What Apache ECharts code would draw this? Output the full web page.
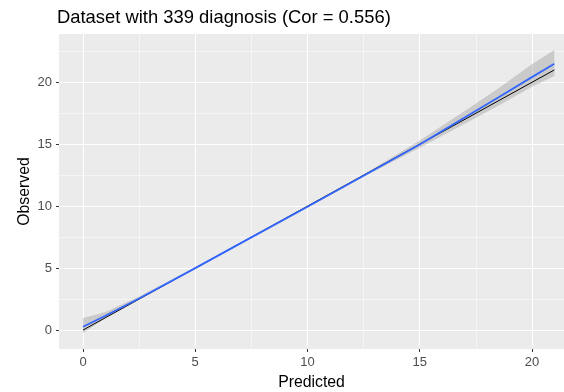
<!DOCTYPE html>
<html><head><meta charset="utf-8">
<script src="https://cdn.jsdelivr.net/npm/echarts@6/dist/echarts.min.js"></script>
<style>html,body{margin:0;padding:0;background:#fff}#c{width:564px;height:392px}</style>
</head><body><div id="c"></div>
<script>
// Data
const titleText = 'Dataset with 339 diagnosis (Cor = 0.556)';
const xName = 'Predicted';
const yName = 'Observed';
const tickValues = [0, 5, 10, 15, 20];
const minorValues = [2.5, 7.5, 12.5, 17.5];
const yMinorValues = [2.5, 7.5, 12.5, 17.5, 22.5];
const identityX = [0, 21];
const identityY = [0, 21];
const fitX = [0, 1, 2.5, 5, 7.5, 10, 12.5, 15, 16.8, 18.5, 20, 21];
const fitY = [0.27, 1.15, 2.55, 5.0, 7.48, 9.95, 12.45, 14.98, 16.94, 18.78, 20.42, 21.5];
const fitLower = [-0.24, 0.95, 2.45, 4.93, 7.42, 9.88, 12.37, 14.72, 16.45, 18.1, 19.65, 20.5];
const fitUpper = [0.97, 1.45, 2.7, 5.07, 7.55, 10.03, 12.55, 15.3, 17.45, 19.5, 21.45, 22.6];

const FONT = '"Liberation Sans", Arial, sans-serif';
const chart = echarts.init(document.getElementById('c'), null, {renderer: 'canvas'});

function gridLines(vals, axis, width) {
  return vals.map(v => axis === 'x' ? {xAxis: v, lineStyle: {color: '#fff', width: width, type: 'solid'}}
                                     : {yAxis: v, lineStyle: {color: '#fff', width: width, type: 'solid'}});
}

chart.setOption({
  animation: false,
  backgroundColor: '#fff',
  title: {text: titleText, left: 52, top: 4,
    textStyle: {fontFamily: FONT, fontSize: 18.4, fontWeight: 'normal', color: '#000'}},
  grid: {left: 59, right: 0, top: 34, bottom: 43, show: true, backgroundColor: '#EBEBEB', borderWidth: 0,
    containLabel: false, outerBoundsMode: 'none'},
  xAxis: {type: 'value', min: -1.07, max: 21.43,
    name: xName, nameLocation: 'middle', nameGap: 26, nameMoveOverlap: false,
    nameTextStyle: {fontFamily: FONT, fontSize: 15.8, color: '#000'},
    axisLine: {show: false, onZero: false},
    axisTick: {show: true, length: 3, lineStyle: {color: '#333', width: 1}, customValues: tickValues},
    axisLabel: {fontFamily: FONT, fontSize: 13, color: '#4D4D4D', margin: 7, customValues: tickValues},
    splitLine: {show: false}},
  yAxis: {type: 'value', min: -1.53, max: 23.9,
    name: yName, nameLocation: 'middle', nameGap: 26, nameRotate: 90, nameMoveOverlap: false,
    nameTextStyle: {fontFamily: FONT, fontSize: 15.8, color: '#000'},
    axisLine: {show: false, onZero: false},
    axisTick: {show: true, length: 3, lineStyle: {color: '#333', width: 1}, customValues: tickValues},
    axisLabel: {fontFamily: FONT, fontSize: 13, color: '#4D4D4D', margin: 7, customValues: tickValues},
    splitLine: {show: false}},
  series: [
    {type: 'line', data: [], silent: true, z: 0,
      markLine: {silent: true, symbol: 'none', label: {show: false}, z: 0, animation: false,
      data: [].concat(gridLines(minorValues, 'x', 0.5), gridLines(yMinorValues, 'y', 0.5),
                      gridLines(tickValues, 'x', 1.1), gridLines(tickValues, 'y', 1.1))}},
    {type: 'custom', silent: true, z: 6,
      data: fitX.map((x, i) => [x, fitLower[i], fitUpper[i]]),
      renderItem: function (params, api) {
        if (params.dataIndex !== 0) return null;
        const pts = [];
        for (let i = 0; i < fitX.length; i++) pts.push(api.coord([fitX[i], fitUpper[i]]));
        for (let i = fitX.length - 1; i >= 0; i--) pts.push(api.coord([fitX[i], fitLower[i]]));
        return {type: 'polygon', shape: {points: pts}, style: {fill: 'rgba(153,153,153,0.4)'}};
      }},
    {type: 'line', z: 7, data: identityX.map((x, i) => [x, identityY[i]]), showSymbol: false, silent: true,
      lineStyle: {color: '#000', width: 1}},
    {type: 'line', z: 8, data: fitX.map((x, i) => [x, fitY[i]]), showSymbol: false, silent: true,
      lineStyle: {color: '#3366FF', width: 1.8}}
  ]
});
</script></body></html>
